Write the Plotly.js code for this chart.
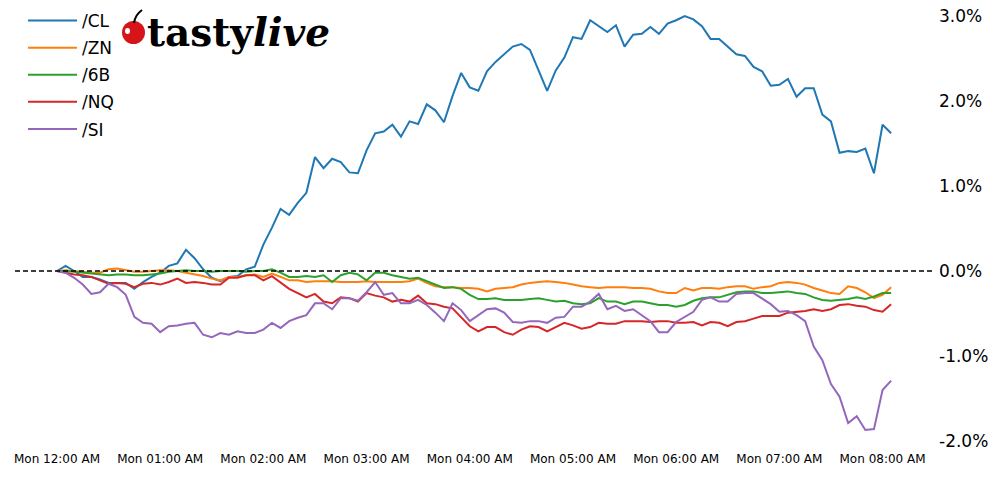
<!DOCTYPE html>
<html>
<head>
<meta charset="utf-8">
<script src="https://cdn.plot.ly/plotly-3.0.1.min.js"></script>
<style>html,body{margin:0;padding:0;background:#fff;}#chart{width:1000px;height:478px;}</style>
</head>
<body>
<div id="chart"></div>
<script>
// Sampling grid: 5-minute bars starting Monday 12:00 AM
const startTime = '2024-01-08T00:00:00';
const stepMinutes = 5;
const nPoints = 98;

const seriesNames = ['/CL', '/ZN', '/6B', '/NQ', '/SI'];
const seriesColors = ['#1f77b4', '#ff7f0e', '#2ca02c', '#d62728', '#9467bd'];

// % change from start
const CL = [0.00,0.06,0.00,-0.07,-0.07,-0.10,-0.14,-0.14,-0.14,-0.21,
  -0.13,-0.07,-0.02,0.06,0.09,0.25,0.15,0.02,-0.08,-0.12,
  -0.07,-0.06,0.02,0.05,0.31,0.51,0.73,0.66,0.80,0.92,
  1.34,1.21,1.32,1.28,1.16,1.15,1.42,1.62,1.64,1.72,
  1.58,1.76,1.73,1.96,1.89,1.75,2.06,2.33,2.16,2.12,
  2.35,2.46,2.55,2.64,2.67,2.60,2.36,2.12,2.36,2.51,
  2.75,2.73,2.95,2.88,2.81,2.89,2.64,2.78,2.79,2.87,
  2.79,2.91,2.95,3.00,2.96,2.88,2.73,2.73,2.64,2.55,
  2.53,2.40,2.35,2.18,2.19,2.26,2.05,2.15,2.15,1.84,
  1.76,1.39,1.41,1.40,1.44,1.15,1.72,1.62];

const ZN = [0.00,0.01,0.00,-0.01,-0.02,-0.02,0.02,0.03,0.01,-0.01,
  -0.01,0.00,0.01,0.01,0.00,-0.02,-0.04,-0.06,-0.09,-0.11,
  -0.07,-0.07,-0.05,-0.04,-0.07,-0.03,-0.07,-0.11,-0.11,-0.13,
  -0.12,-0.12,-0.12,-0.13,-0.13,-0.13,-0.12,-0.13,-0.13,-0.13,
  -0.13,-0.12,-0.09,-0.14,-0.18,-0.19,-0.19,-0.20,-0.20,-0.21,
  -0.24,-0.21,-0.20,-0.19,-0.16,-0.14,-0.13,-0.12,-0.13,-0.14,
  -0.16,-0.18,-0.19,-0.20,-0.19,-0.19,-0.19,-0.20,-0.20,-0.21,
  -0.24,-0.26,-0.26,-0.20,-0.23,-0.20,-0.20,-0.21,-0.19,-0.18,
  -0.18,-0.21,-0.19,-0.18,-0.14,-0.13,-0.14,-0.16,-0.20,-0.23,
  -0.26,-0.27,-0.18,-0.20,-0.25,-0.32,-0.28,-0.19];

const B6 = [0.00,0.00,-0.01,-0.02,-0.03,-0.04,-0.05,-0.04,-0.04,-0.05,
  -0.05,-0.04,-0.03,-0.01,0.00,0.01,0.00,0.00,-0.01,0.00,
  0.00,0.00,-0.01,0.00,0.00,0.02,-0.02,-0.07,-0.07,-0.06,
  -0.07,-0.05,-0.13,-0.05,-0.02,-0.04,-0.11,-0.02,-0.02,-0.05,
  -0.07,-0.09,-0.08,-0.12,-0.16,-0.20,-0.19,-0.21,-0.28,-0.33,
  -0.33,-0.32,-0.34,-0.34,-0.34,-0.33,-0.32,-0.34,-0.36,-0.35,
  -0.38,-0.39,-0.38,-0.32,-0.36,-0.36,-0.39,-0.36,-0.36,-0.38,
  -0.40,-0.40,-0.42,-0.40,-0.35,-0.32,-0.31,-0.31,-0.28,-0.25,
  -0.24,-0.24,-0.26,-0.26,-0.25,-0.24,-0.26,-0.27,-0.31,-0.34,
  -0.35,-0.34,-0.33,-0.31,-0.33,-0.30,-0.26,-0.26];

const NQ = [0.00,-0.02,-0.04,-0.05,-0.07,-0.11,-0.15,-0.14,-0.15,-0.19,
  -0.15,-0.14,-0.16,-0.13,-0.09,-0.14,-0.13,-0.14,-0.16,-0.16,
  -0.08,-0.08,-0.05,-0.05,-0.11,-0.06,-0.14,-0.21,-0.26,-0.31,
  -0.27,-0.36,-0.38,-0.31,-0.32,-0.36,-0.26,-0.29,-0.31,-0.36,
  -0.34,-0.36,-0.29,-0.38,-0.39,-0.42,-0.44,-0.54,-0.65,-0.71,
  -0.66,-0.66,-0.72,-0.75,-0.69,-0.65,-0.66,-0.71,-0.66,-0.61,
  -0.64,-0.68,-0.66,-0.61,-0.62,-0.62,-0.59,-0.59,-0.59,-0.60,
  -0.59,-0.59,-0.61,-0.61,-0.60,-0.64,-0.60,-0.61,-0.65,-0.60,
  -0.59,-0.56,-0.53,-0.53,-0.53,-0.49,-0.48,-0.47,-0.45,-0.47,
  -0.45,-0.40,-0.39,-0.41,-0.42,-0.46,-0.48,-0.39];

const SI = [0.00,-0.02,-0.08,-0.16,-0.27,-0.25,-0.15,-0.19,-0.28,-0.54,
  -0.61,-0.62,-0.72,-0.65,-0.64,-0.62,-0.61,-0.75,-0.78,-0.73,
  -0.75,-0.71,-0.73,-0.73,-0.69,-0.61,-0.67,-0.59,-0.55,-0.52,
  -0.38,-0.38,-0.45,-0.32,-0.32,-0.35,-0.25,-0.13,-0.28,-0.26,
  -0.38,-0.38,-0.34,-0.40,-0.49,-0.59,-0.38,-0.46,-0.59,-0.52,
  -0.45,-0.44,-0.49,-0.60,-0.61,-0.59,-0.59,-0.61,-0.55,-0.54,
  -0.42,-0.42,-0.36,-0.27,-0.45,-0.41,-0.47,-0.45,-0.52,-0.59,
  -0.72,-0.72,-0.60,-0.54,-0.48,-0.34,-0.31,-0.36,-0.36,-0.27,
  -0.26,-0.26,-0.32,-0.39,-0.48,-0.47,-0.52,-0.59,-0.89,-1.05,
  -1.33,-1.48,-1.79,-1.71,-1.87,-1.86,-1.40,-1.29];

const yTickVals = [-2, -1, 0, 1, 2, 3];
const yTickText = ['-2.0%', '-1.0%', '0.0%', '1.0%', '2.0%', '3.0%'];

// build time axis
function pad(n){return (n<10?'0':'')+n;}
const t0 = new Date(startTime + 'Z').getTime();
const times = [];
for (let i = 0; i < nPoints; i++) {
  const d = new Date(t0 + i*stepMinutes*60000);
  times.push(d.getUTCFullYear()+'-'+pad(d.getUTCMonth()+1)+'-'+pad(d.getUTCDate())+' '+pad(d.getUTCHours())+':'+pad(d.getUTCMinutes()));
}

const allSeries = [CL, ZN, B6, NQ, SI];
const traces = allSeries.map((ys, k) => ({
  x: times, y: ys, type: 'scatter', mode: 'lines', name: seriesNames[k],
  line: {color: seriesColors[k], width: 2}, legendgroup: 'g'+k
}));

const W = 917, H = 450, L = 15, T = 0;
function px(x){return (x - L)/W;}
function py(y){return 1 - (y - T)/H;}

const layout = {
  width: 1000, height: 478,
  margin: {l: 15, r: 68, t: 0, b: 28, pad: 0},
  paper_bgcolor: '#fff', plot_bgcolor: '#fff',
  font: {family: 'DejaVu Sans', color: '#000'},
  showlegend: true,
  legend: {x: px(23), y: py(3), xanchor: 'left', yanchor: 'top', bgcolor: 'rgba(0,0,0,0)',
    font: {size: 17, family: 'DejaVu Sans', color: '#000'}, tracegroupgap: 2, itemwidth: 49},
  xaxis: {
    type: 'date',
    range: ['2024-01-07 23:35:36', '2024-01-08 08:28:45'],
    tick0: '2024-01-08 00:00', dtick: 3600000, tickformat: '%a %I:%M %p',
    showgrid: false, zeroline: false, showline: false, ticks: '',
    tickfont: {size: 12, family: 'DejaVu Sans', color: '#000'}
  },
  yaxis: {
    side: 'right', range: [-2.106, 3.188],
    tickvals: yTickVals, ticktext: yTickText,
    showgrid: false, zeroline: false, showline: false, ticks: '', ticklabelstandoff: 6,
    tickfont: {size: 17, family: 'DejaVu Sans', color: '#000'}
  },
  shapes: [
    {type: 'line', xref: 'paper', x0: 0, x1: 1, yref: 'y', y0: 0, y1: 0,
     line: {color: '#000', width: 1.5, dash: '5px,3px'}, layer: 'above'},
    {type: 'circle', xref: 'paper', yref: 'paper', x0: px(122), x1: px(145), y0: py(44), y1: py(21),
     fillcolor: '#d7141a', line: {width: 0}},
    {type: 'circle', xref: 'paper', yref: 'paper', x0: px(125), x1: px(130), y0: py(34), y1: py(28),
     fillcolor: '#ffffff', line: {width: 0}},
    {type: 'path', xref: 'paper', yref: 'paper',
     path: 'M'+px(134)+','+py(23)+' Q'+px(135)+','+py(15)+' '+px(142)+','+py(10),
     line: {color: '#000', width: 2}}
  ],
  annotations: [
    {xref: 'paper', yref: 'paper', x: px(145), y: py(32), xanchor: 'left', yanchor: 'middle',
     text: '<b>tasty<i>live</i></b>', showarrow: false,
     font: {family: 'DejaVu Serif', size: 39, color: '#000'}}
  ]
};

Plotly.newPlot('chart', traces, layout, {displayModeBar: false, staticPlot: true});
</script>
</body>
</html>
